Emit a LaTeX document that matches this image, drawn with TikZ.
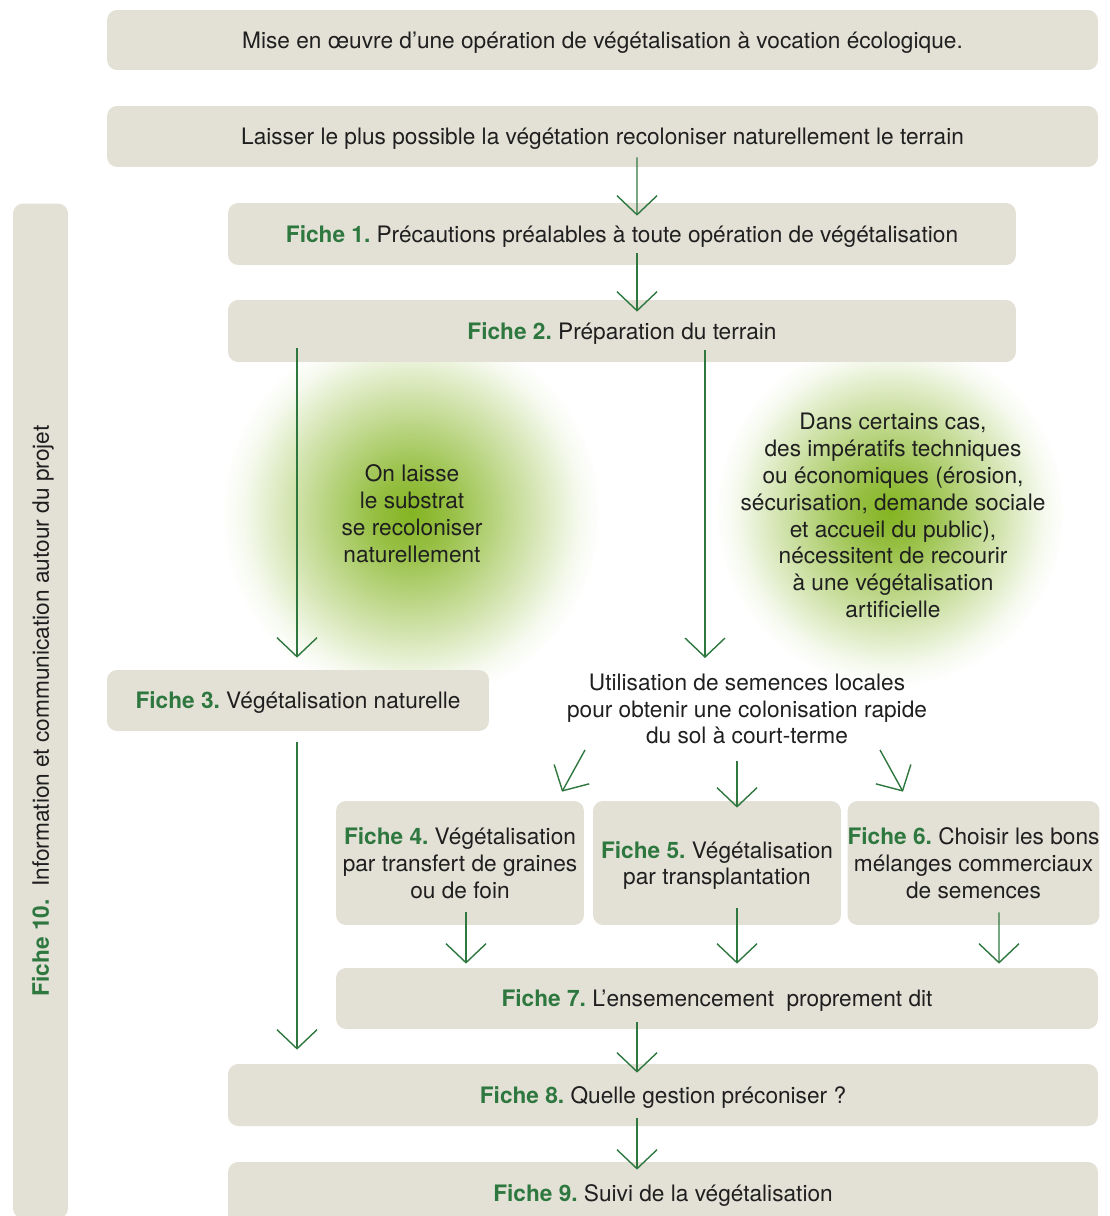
\documentclass[tikz,border=0pt]{standalone}
\usepackage{fontspec}
\setmainfont{TeX Gyre Heros}
\usetikzlibrary{arrows.meta,calc,positioning}
\frenchspacing

\definecolor{boxgray}{RGB}{227,225,214}
\definecolor{fichegreen}{RGB}{46,120,64}
\definecolor{glowgreen}{RGB}{132,180,34}
\pgfdeclareradialshading{glow}{\pgfpoint{0bp}{0bp}}{color(0bp)=(glowgreen); color(5bp)=(glowgreen!85!white); color(15bp)=(glowgreen!40!white); color(22bp)=(glowgreen!8!white); color(25bp)=(white); color(50bp)=(white)}

\newcommand{\fiche}[1]{\textcolor{fichegreen}{\bfseries Fiche~#1.}}

\begin{document}
\begin{tikzpicture}[x=0.02cm, y=-0.02cm, font=\fontsize{12.9}{15.3}\selectfont,
  box/.style={fill=boxgray, rounded corners=0.2cm, inner xsep=0pt, text depth=0pt, align=center, text=black!88},
  glowtext/.style={align=center, text=black!88},
  arr/.style={draw=fichegreen, line width=0.8pt, -{Straight Barb[length=0.38cm,width=0.8cm]}}]
  \useasboundingbox (0,0) rectangle (1109,1216);

  % green halos behind the two branches
  \shade[shading=glow] (411,513) circle[radius=3.8cm];
  \shade[shading=glow] (890,512) circle[radius=3.5cm];

  \node[box, minimum width=19.82cm, minimum height=1.2cm] (top) at (602.5,40) {Mise en œuvre d’une opération de végétalisation à vocation écologique.};
  \node[box, minimum width=19.82cm, minimum height=1.22cm] (laisser) at (602.5,136.5) {Laisser le plus possible la végétation recoloniser naturellement le terrain};
  \node[box, minimum width=15.76cm, minimum height=1.24cm] (f1) at (622,234) {\fiche{1} Précautions préalables à toute opération de végétalisation};
  \node[box, minimum width=15.76cm, minimum height=1.24cm] (f2) at (622,331) {\fiche{2} Préparation du terrain};
  \node[box, minimum width=7.64cm, minimum height=1.22cm] (f3) at (298,700.5) {\fiche{3} Végétalisation naturelle};
  \node[box, minimum width=4.96cm, minimum height=2.48cm] (f4) at (460,863) {\fiche{4} Végétalisation\\par transfert de graines\\ou de foin};
  \node[box, minimum width=4.96cm, minimum height=2.48cm] (f5) at (717,863) {\fiche{5} Végétalisation\\par transplantation};
  \node[box, minimum width=4.98cm, minimum height=2.48cm] (f6) at (973.5,863) {\fiche{6} Choisir les bons\\mélanges commerciaux\\de semences};
  \node[box, minimum width=15.24cm, minimum height=1.22cm] (f7) at (717,998.5) {\fiche{7} L’ensemencement~ proprement dit};
  \node[box, minimum width=17.4cm, minimum height=1.24cm] (f8) at (663,1095) {\fiche{8} Quelle gestion préconiser ?};
  \node[box, minimum width=17.4cm, minimum height=1.24cm] (f9) at (663,1193) {\fiche{9} Suivi de la végétalisation};
  \node[box, rotate=90, minimum width=20.3cm, minimum height=1.1cm] (f10) at (40.5,711) {\fiche{10}~ Information et communication autour du projet};

  \node[glowtext] (natural) at (412,514) {On laisse\\le substrat\\se recoloniser\\naturellement};
  \node[glowtext] (artif) at (893,515.5) {Dans certains cas,\\des impératifs techniques\\ou économiques (érosion,\\sécurisation, demande sociale\\et accueil du public),\\nécessitent de recourir\\à une végétalisation\\artificielle};
  \node[glowtext] (semences) at (747,709) {Utilisation de semences locales\\pour obtenir une colonisation rapide\\du sol à court-terme};

  % main spine
  \draw[arr] ($(laisser.south)+(34.5,-10)$) -- ($(f1.north)+(15,13)$);
  \draw[arr] ($(f1.south)+(15,-12)$) -- ($(f2.north)+(15,12)$);
  % two branches
  \draw[arr] ($(f2.south)+(-325,-14)$) -- ($(f3.north)+(-1,-12)$);
  \draw[arr] ($(f2.south)+(83,-12)$) -- ($(semences.center)+(-42,-51)$);
  \draw[arr] ($(f3.south)+(-1,11)$) -- ($(f8.north)+(-366,-14)$);
  \draw[arr] ($(semences.center)+(-162,41)$) -- ($(f4.north)+(102,-9)$);
  \draw[arr] ($(semences.center)+(-10,52)$) -- ($(f5.north)+(20,7)$);
  \draw[arr] ($(semences.center)+(133,41)$) -- ($(f6.north)+(-70.5,-9)$);
  \draw[arr] ($(f4.south)+(6,-13)$) -- ($(f7.north)+(-251,-4)$);
  \draw[arr] ($(f5.south)+(20,-17)$) -- ($(f7.north)+(20,-4)$);
  \draw[arr] ($(f6.south)+(25.5,-13)$) -- ($(f7.north)+(282,-4)$);
  \draw[arr] ($(f7.south)+(-80,-7)$) -- ($(f8.north)+(-26,9)$);
  \draw[arr] ($(f8.south)+(-26,-8)$) -- ($(f9.north)+(-26,8)$);
\end{tikzpicture}
\end{document}
